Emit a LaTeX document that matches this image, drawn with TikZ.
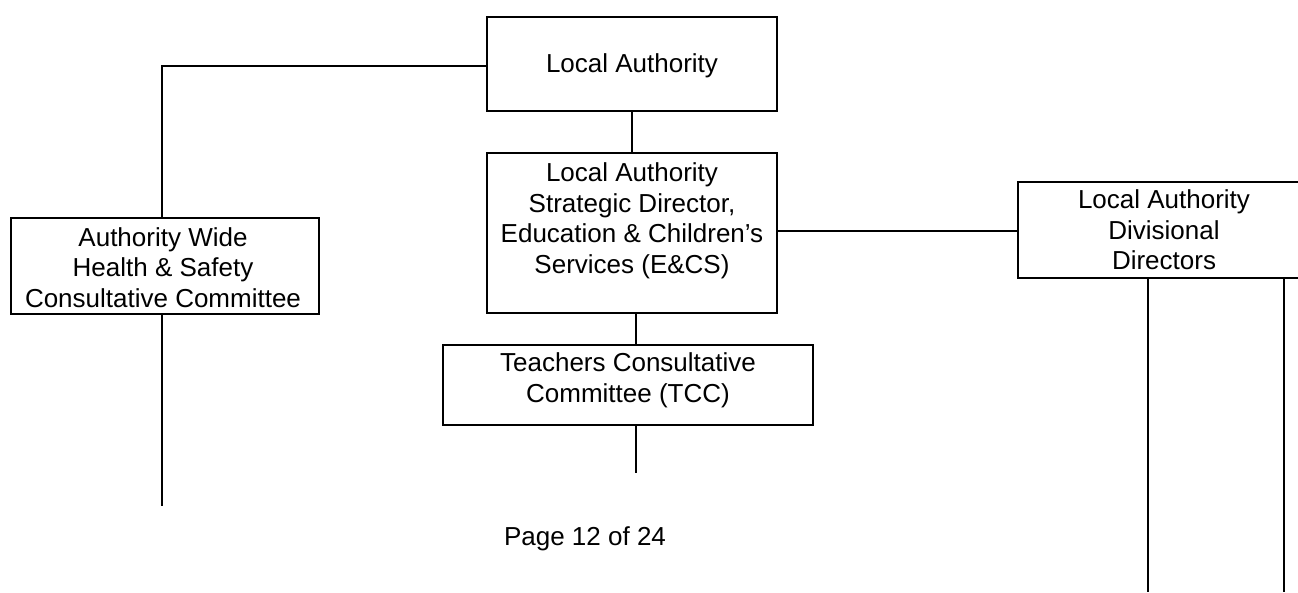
\documentclass[tikz,border=0pt]{standalone}
\usepackage{fontspec}
\setmainfont{Liberation Sans}
\begin{document}
\begin{tikzpicture}[x=1pt,y=-1pt,
  box/.style={draw,line width=1.8pt,rectangle,inner sep=0pt},
  lbl/.style={align=center,inner sep=0pt,font=\fontsize{26}{30.5}\selectfont},
  conn/.style={line width=1.8pt}]
\clip (0,0) rectangle (1298,592);
% boxes
\node[box,minimum width=290,minimum height=94] (la) at (632,64) {};
\node[box,minimum width=290,minimum height=160] (sd) at (632,233) {};
\node[box,minimum width=308,minimum height=96] (aw) at (165,266) {};
\node[box,minimum width=370,minimum height=80] (tcc) at (628,385) {};
\node[box,minimum width=294,minimum height=96] (div) at (1165,230) {};
% labels
\node[lbl] (lat) at (632,66) {Local Authority};
\node[lbl] (sdt) at (632,221) {Local Authority\\Strategic Director,\\Education \& Children’s\\Services (E\&CS)};
\node[lbl] (awt) at (163,267.5) {Authority Wide\\Health \& Safety\\Consultative Committee};
\node[lbl] (tcct) at (628,380.5) {Teachers Consultative\\Committee (TCC)};
\node[lbl] (divt) at (1164,230) {Local Authority\\Divisional\\Directors};
\node[lbl] (page) at (585,538.5) {Page 12 of 24};
% free ends
\coordinate (awend) at (162,506);
\coordinate (tccend) at (636,473);
\coordinate (d1) at (1148,592);
\coordinate (d2) at (1284,592);
% connectors
\draw[conn] ([yshift=-2]la.west) -| ([xshift=-3]aw.north);
\draw[conn] ([xshift=-3]aw.south) -- (awend);
\draw[conn] (la.south) -- (sd.north);
\draw[conn] ([xshift=4]sd.south) -- ([xshift=4]sd.south |- tcc.north);
\draw[conn] (tccend |- tcc.south) -- (tccend);
\draw[conn] ([yshift=2]sd.east) -- ([yshift=2]sd.east -| div.west);
\draw[conn] (d1 |- div.south) -- (d1);
\draw[conn] (d2 |- div.south) -- (d2);
\end{tikzpicture}
\end{document}
